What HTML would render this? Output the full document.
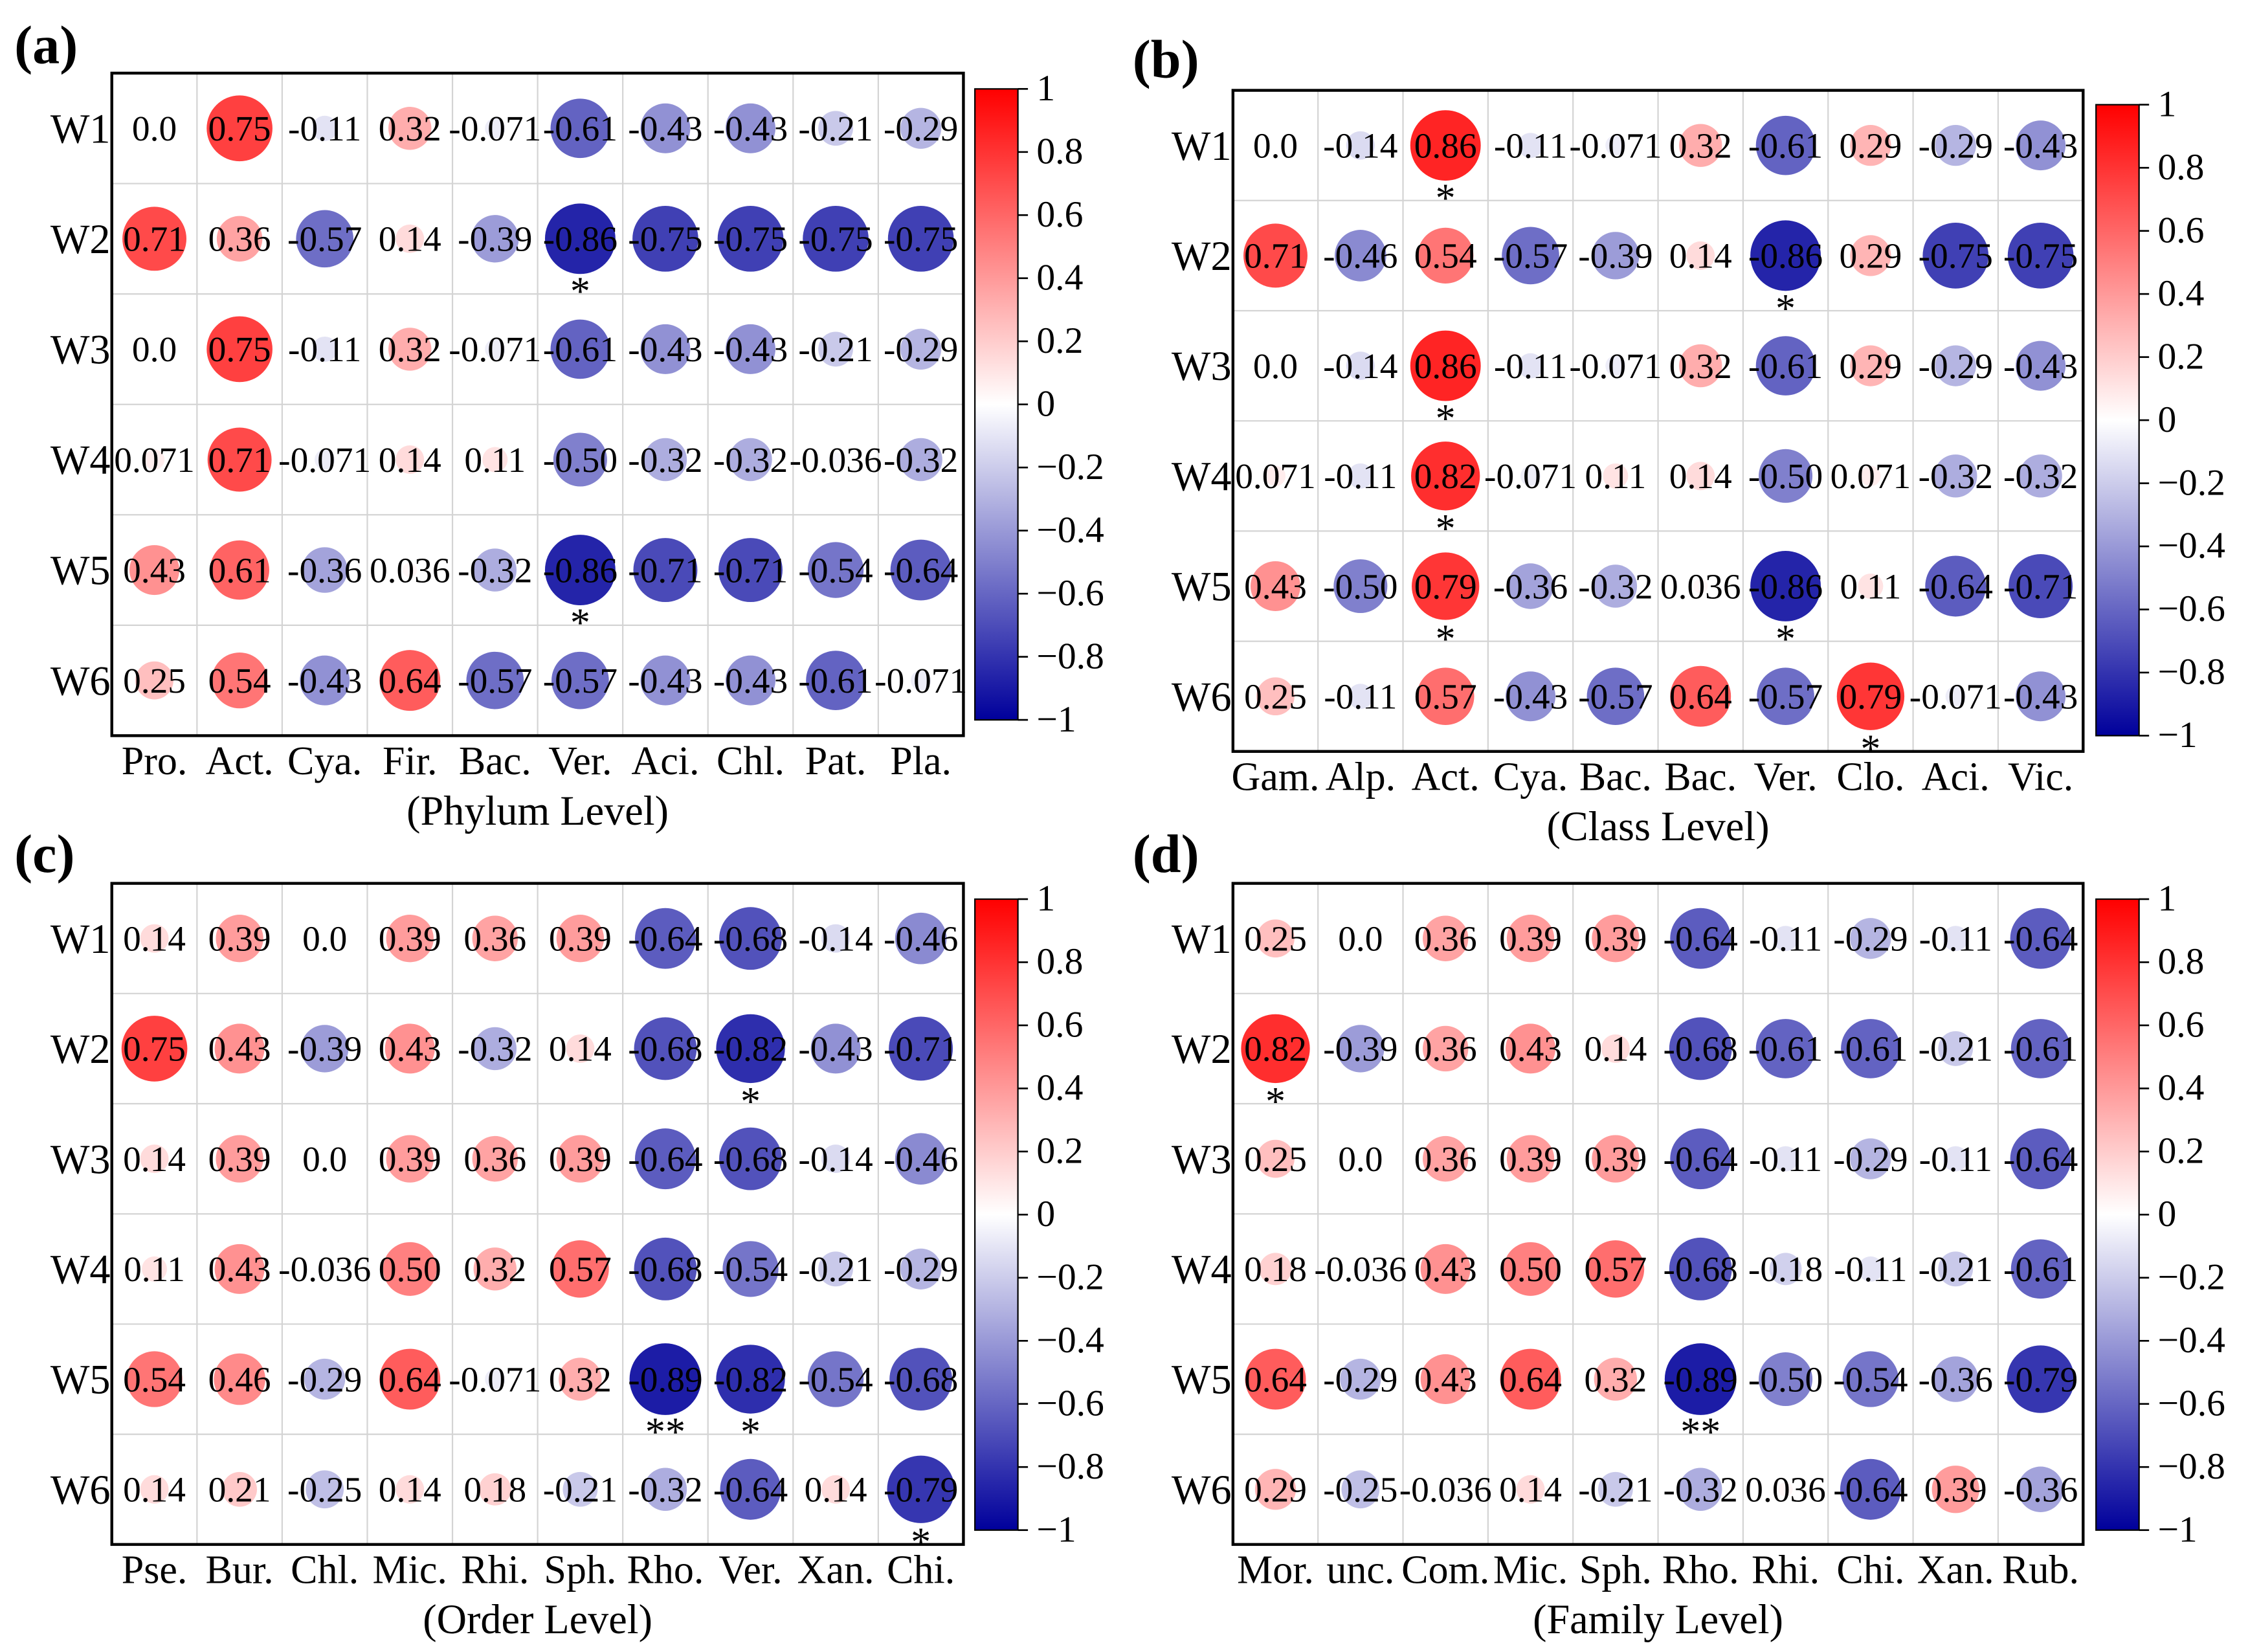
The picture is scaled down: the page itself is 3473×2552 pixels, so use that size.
<!DOCTYPE html>
<html><head><meta charset="utf-8"><style>
html,body{margin:0;padding:0;background:#fff}
svg{display:block}
svg text{font-family:"Liberation Serif","Times New Roman",serif}
</style></head><body>
<svg id="fig" width="3473" height="2552" viewBox="0 0 1568 1152" preserveAspectRatio="none" xmlns="http://www.w3.org/2000/svg" font-family="Liberation Serif, serif"></svg>
<script>
const rowLabels=["W1","W2","W3","W4","W5","W6"];
const colsA=["Pro.","Act.","Cya.","Fir.","Bac.","Ver.","Aci.","Chl.","Pat.","Pla."];
const valsA=[
["0.0","0.75","-0.11","0.32","-0.071","-0.61","-0.43","-0.43","-0.21","-0.29"],
["0.71","0.36","-0.57","0.14","-0.39","-0.86","-0.75","-0.75","-0.75","-0.75"],
["0.0","0.75","-0.11","0.32","-0.071","-0.61","-0.43","-0.43","-0.21","-0.29"],
["0.071","0.71","-0.071","0.14","0.11","-0.50","-0.32","-0.32","-0.036","-0.32"],
["0.43","0.61","-0.36","0.036","-0.32","-0.86","-0.71","-0.71","-0.54","-0.64"],
["0.25","0.54","-0.43","0.64","-0.57","-0.57","-0.43","-0.43","-0.61","-0.071"]];
const sigA=[["","","","","","","","","",""],["","","","","","*","","","",""],["","","","","","","","","",""],["","","","","","","","","",""],["","","","","","*","","","",""],["","","","","","","","","",""]];
const colsB=["Gam.","Alp.","Act.","Cya.","Bac.","Bac.","Ver.","Clo.","Aci.","Vic."];
const valsB=[
["0.0","-0.14","0.86","-0.11","-0.071","0.32","-0.61","0.29","-0.29","-0.43"],
["0.71","-0.46","0.54","-0.57","-0.39","0.14","-0.86","0.29","-0.75","-0.75"],
["0.0","-0.14","0.86","-0.11","-0.071","0.32","-0.61","0.29","-0.29","-0.43"],
["0.071","-0.11","0.82","-0.071","0.11","0.14","-0.50","0.071","-0.32","-0.32"],
["0.43","-0.50","0.79","-0.36","-0.32","0.036","-0.86","0.11","-0.64","-0.71"],
["0.25","-0.11","0.57","-0.43","-0.57","0.64","-0.57","0.79","-0.071","-0.43"]];
const sigB=[["","","*","","","","","","",""],["","","","","","","*","","",""],["","","*","","","","","","",""],["","","*","","","","","","",""],["","","*","","","","*","","",""],["","","","","","","","*","",""]];
const colsC=["Pse.","Bur.","Chl.","Mic.","Rhi.","Sph.","Rho.","Ver.","Xan.","Chi."];
const valsC=[
["0.14","0.39","0.0","0.39","0.36","0.39","-0.64","-0.68","-0.14","-0.46"],
["0.75","0.43","-0.39","0.43","-0.32","0.14","-0.68","-0.82","-0.43","-0.71"],
["0.14","0.39","0.0","0.39","0.36","0.39","-0.64","-0.68","-0.14","-0.46"],
["0.11","0.43","-0.036","0.50","0.32","0.57","-0.68","-0.54","-0.21","-0.29"],
["0.54","0.46","-0.29","0.64","-0.071","0.32","-0.89","-0.82","-0.54","-0.68"],
["0.14","0.21","-0.25","0.14","0.18","-0.21","-0.32","-0.64","0.14","-0.79"]];
const sigC=[["","","","","","","","","",""],["","","","","","","","*","",""],["","","","","","","","","",""],["","","","","","","","","",""],["","","","","","","**","*","",""],["","","","","","","","","","*"]];
const colsD=["Mor.","unc.","Com.","Mic.","Sph.","Rho.","Rhi.","Chi.","Xan.","Rub."];
const valsD=[
["0.25","0.0","0.36","0.39","0.39","-0.64","-0.11","-0.29","-0.11","-0.64"],
["0.82","-0.39","0.36","0.43","0.14","-0.68","-0.61","-0.61","-0.21","-0.61"],
["0.25","0.0","0.36","0.39","0.39","-0.64","-0.11","-0.29","-0.11","-0.64"],
["0.18","-0.036","0.43","0.50","0.57","-0.68","-0.18","-0.11","-0.21","-0.61"],
["0.64","-0.29","0.43","0.64","0.32","-0.89","-0.50","-0.54","-0.36","-0.79"],
["0.29","-0.25","-0.036","0.14","-0.21","-0.32","0.036","-0.64","0.39","-0.36"]];
const sigD=[["","","","","","","","","",""],["*","","","","","","","","",""],["","","","","","","","","",""],["","","","","","","","","",""],["","","","","","**","","","",""],["","","","","","","","","",""]];
const cbTicks=[1,0.8,0.6,0.4,0.2,0,-0.2,-0.4,-0.6,-0.8,-1];

const NS="http://www.w3.org/2000/svg";
const FF='"Liberation Serif","Times New Roman",serif';
const svg=document.getElementById('fig');
function mk(tag,attrs,parent){const e=document.createElementNS(NS,tag);for(const k in attrs)e.setAttribute(k,attrs[k]);if(tag==='text')e.setAttribute('font-family',FF);(parent||svg).appendChild(e);return e;}
function color(v){
  let r,g,b;
  if(v>=0){r=255;g=Math.round(255*(1-v));b=g;}
  else{const t=-v;r=Math.round(255*(1-t));g=r;b=Math.round(255-t*(255-155));}
  return `rgb(${r},${g},${b})`;
}
const defs=mk('defs',{});
const lg=mk('linearGradient',{id:'cbg',x1:0,y1:0,x2:0,y2:1},defs);
for(let i=0;i<=20;i++){const v=1-i/10;mk('stop',{offset:(i/20),'stop-color':color(v)},lg);}

function panel(id,label,lx,ly,L,R,T,B,cols,vals,sig,title,cbL,cbT,cbB){
  const g=mk('g',{});
  
  
  const nc=cols.length,nr=rowLabels.length;
  const cw=(R-L)/nc,rh=(B-T)/nr;
  const xs=c=>L+cw*(c+0.5), ys=r=>T+rh*(r+0.5);
  const pl=mk('text',{x:lx,y:ly,'font-size':38,'font-weight':'bold'},g);pl.textContent=label;
  
  for(let c=1;c<nc;c++)mk('line',{x1:L+cw*c,x2:L+cw*c,y1:T,y2:B,stroke:'#d4d4d4','stroke-width':1},g);
  for(let r=1;r<nr;r++)mk('line',{x1:L,x2:R,y1:T+rh*r,y2:T+rh*r,stroke:'#d4d4d4','stroke-width':1},g);
  for(let r=0;r<nr;r++)for(let c=0;c<nc;c++){
    const s=vals[r][c],v=parseFloat(s);
    if(Math.abs(v)>0){
      const e=mk('circle',{cx:xs(c),cy:ys(r),r:26.5*Math.sqrt(Math.abs(v)),fill:color(v)},g);
      
      
    }
    const t=mk('text',{x:xs(c),y:ys(r)+8.5,'font-size':25,'text-anchor':'middle'},g);t.textContent=s;
    
    if(sig[r][c]){const st=mk('text',{x:xs(c),y:ys(r)+46,'font-size':28,'text-anchor':'middle'},g);st.textContent=sig[r][c];
      }
  }
  mk('rect',{x:L,y:T,width:R-L,height:B-T,fill:'none',stroke:'#000','stroke-width':2},g);
  rowLabels.forEach((w,r)=>{const t=mk('text',{x:L-1,y:ys(r)+10,'font-size':29,'text-anchor':'end'},g);t.textContent=w;
    });
  cols.forEach((w,c)=>{const t=mk('text',{x:xs(c),y:B+27,'font-size':28,'text-anchor':'middle'},g);t.textContent=w;
    });
  const tt=mk('text',{x:(L+R)/2,y:B+62,'font-size':29,'text-anchor':'middle'},g);tt.textContent=title;
  
  const cb=mk('rect',{x:cbL,y:cbT,width:30,height:cbB-cbT,fill:'url(#cbg)',stroke:'#000','stroke-width':1},g);
  
  const cy=v=>cbT+(1-v)/2*(cbB-cbT);
  cbTicks.forEach(v=>{
    mk('line',{x1:cbL+30,x2:cbL+37,y1:cy(v),y2:cy(v),stroke:'#000','stroke-width':1.2},g);
    const t=mk('text',{x:cbL+43,y:cy(v)+8,'font-size':26},g);
    t.textContent=v===0?'0':(v<0?'\u2212':'')+(Math.abs(v)===1?'1':Math.abs(v).toFixed(1));
    
  });
}
panel('a','(a)',10,44,78,672,51,513,colsA,valsA,sigA,'(Phylum Level)',680,62,502);
panel('b','(b)',790,54,860,1453,63,524,colsB,valsB,sigB,'(Class Level)',1462,73,513);
panel('c','(c)',10,608,78,672,616,1077,colsC,valsC,sigC,'(Order Level)',680,627,1067);
panel('d','(d)',790,608,860,1453,616,1077,colsD,valsD,sigD,'(Family Level)',1462,627,1067);
</script>
</body></html>
